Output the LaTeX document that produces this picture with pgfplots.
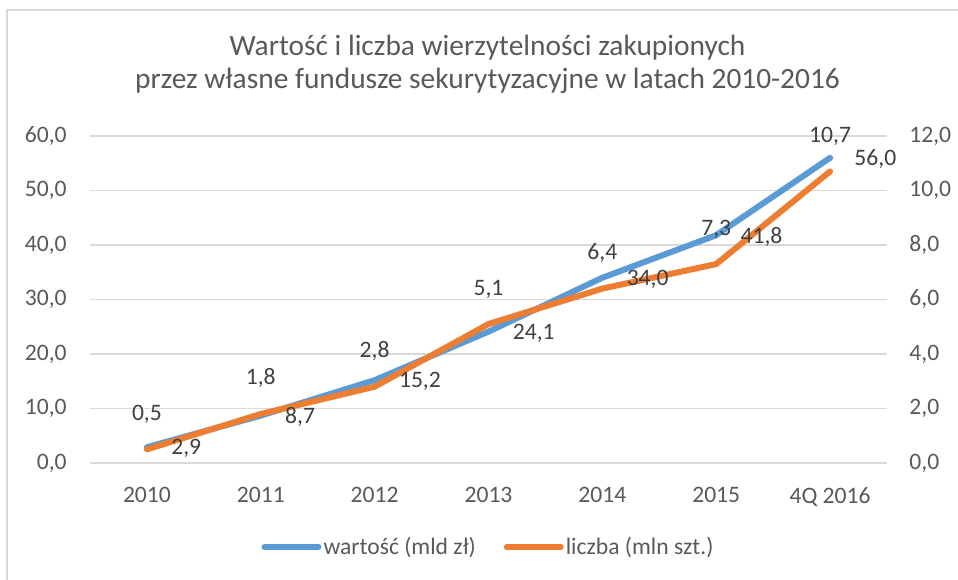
\documentclass[border=0pt]{standalone}
\usepackage{fontspec}
\setmainfont{Carlito}
\usepackage{pgfplots}
\pgfplotsset{compat=1.18}
\definecolor{cblue}{HTML}{5B9BD5}
\definecolor{corange}{HTML}{ED7D31}
\definecolor{cgrid}{HTML}{D9D9D9}
\definecolor{ctext}{HTML}{595959}
\definecolor{clabel}{HTML}{404040}
\tikzset{lbl/.style={font=\fontsize{11.8}{14}\selectfont, text=clabel, inner sep=0pt, text depth=0pt}}
\pgfplotsset{
  myaxis/.style={
    at={(45pt,58pt)}, anchor=south west,
    width=398.5pt, height=163.5pt, scale only axis,
    xmin=-0.5, xmax=6.5, ymin=0,
    axis line style={draw=none}, major tick length=0pt,
    tick label style={font=\fontsize{11.8}{14}\selectfont, text=ctext},
    /pgf/number format/fixed,
    /pgf/number format/fixed zerofill,
    /pgf/number format/precision=1,
    /pgf/number format/use comma,
    /pgf/number format/assume math mode=true,
  },
}
\pgfplotstableread{
x wartosc liczba
0 2.9  0.5
1 8.7  1.8
2 15.2 2.8
3 24.1 5.1
4 34.0 6.4
5 41.8 7.3
6 56.0 10.7
}\datatable
\begin{document}
\begin{tikzpicture}
\useasboundingbox (0,0) rectangle (479pt,289.5pt);
\draw[cgrid, line width=0.6pt] (3.5pt,-10pt) -- (3.5pt,284.5pt) -- (490pt,284.5pt);
\node[text=ctext, font=\fontsize{14.7}{16.5}\selectfont, align=center] at (243.75pt,257.25pt)
  {Wartość i liczba wierzytelności zakupionych\\przez własne fundusze sekurytyzacyjne w latach 2010-2016};

% left axis: blue line
\begin{axis}[myaxis, ymax=60, ytick={0,10,20,30,40,50,60},
  ymajorgrids, grid style={cgrid, line width=0.75pt},
  xtick={0,1,2,3,4,5,6},
  xticklabels={2010,2011,2012,2013,2014,2015,4Q 2016},
  xticklabel style={anchor=north, inner sep=0pt, yshift=-12pt},
  yticklabel style={anchor=east, inner sep=0pt, xshift=-11.5pt},
]
\addplot[cblue, line width=3pt, line cap=round, line join=round]
  table[x=x, y=wartosc] {\datatable};
\end{axis}

% right axis: orange line with its labels, and legend
\begin{axis}[myaxis, ymax=12, ytick={0,2,4,6,8,10,12},
  axis x line=none, axis y line*=right,
  yticklabel style={anchor=west, inner sep=0pt, xshift=11pt},
  legend style={at={(0.5,-0.257)}, anchor=center, draw=none, fill=none,
    legend columns=2, font=\fontsize{11.8}{14}\selectfont, text=ctext,
    /tikz/every even column/.append style={column sep=13pt},
    nodes={inner sep=1pt}},
  legend image code/.code={\draw[#1, line cap=round] (0pt,0pt) -- (27pt,0pt);},
]
\addlegendimage{cblue, line width=3pt}
\addlegendentry{wartość (mld zł)}
\addplot[corange, line width=3pt, line cap=round, line join=round,
  nodes near coords, point meta=y,
  every node near coord/.append style={lbl, anchor=south, yshift=13pt}]
  table[x=x, y=liczba] {\datatable};
\addlegendentry{liczba (mln szt.)}
\end{axis}

% left axis again: blue data labels on top
\begin{axis}[myaxis, ymax=60, hide axis]
\addplot[draw=none, nodes near coords, point meta=y,
  every node near coord/.append style={lbl, anchor=west, xshift=12pt}]
  table[x=x, y=wartosc] {\datatable};
\end{axis}
\end{tikzpicture}
\end{document}
